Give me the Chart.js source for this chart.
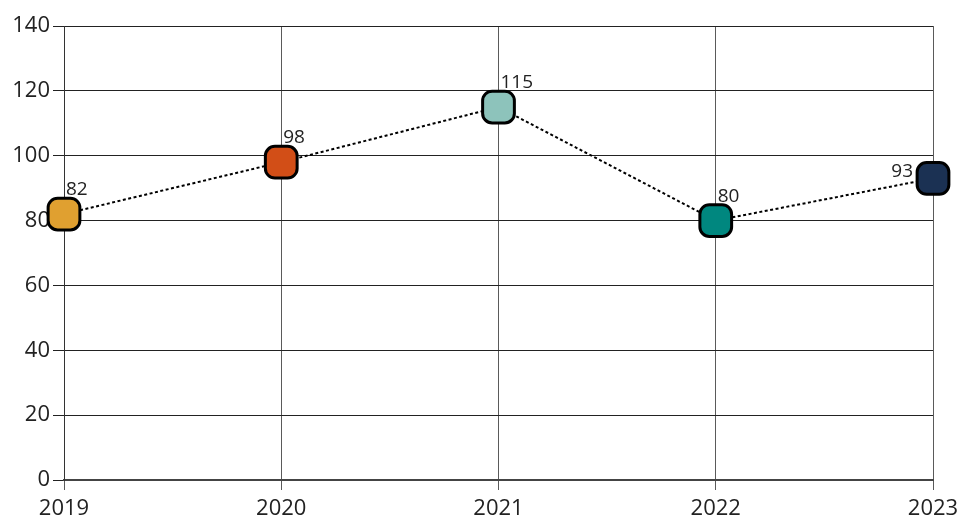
<!DOCTYPE html>
<html>
<head>
<meta charset="utf-8">
<script src="https://cdn.jsdelivr.net/npm/chart.js@4/dist/chart.umd.min.js"></script>
<style>
  html, body { margin: 0; padding: 0; background: #ffffff; }
  #wrap { width: 958px; height: 523px; position: relative; }
</style>
</head>
<body>
<div id="wrap"><canvas id="chart" width="958" height="523"></canvas></div>
<script>
// Yearly values
const years = ['2019', '2020', '2021', '2022', '2023'];
const values = [82, 98, 115, 80, 93];
const pointColors = ['#E0A030', '#D24E17', '#8DC3BB', '#00877F', '#1B3153'];
const yTicks = [0, 20, 40, 60, 80, 100, 120, 140];

const FONT = "'Open Sans', 'Noto Sans', sans-serif";

// Value labels beside each marker; the last one sits on the left of its marker
const valueLabels = {
  id: 'valueLabels',
  afterDatasetsDraw(chart) {
    const ctx = chart.ctx;
    const meta = chart.getDatasetMeta(0);
    ctx.save();
    ctx.font = '19px ' + FONT;
    ctx.fillStyle = '#222222';
    meta.data.forEach((pt, i) => {
      const text = String(values[i]);
      ctx.textBaseline = 'alphabetic';
      if (i === values.length - 1) {
        ctx.textAlign = 'right';
        ctx.fillText(text, pt.x - 20, pt.y - 1);
      } else {
        ctx.textAlign = 'left';
        ctx.fillText(text, pt.x + 2, pt.y - 19);
      }
    });
    ctx.restore();
  }
};

new Chart(document.getElementById('chart'), {
  type: 'line',
  data: {
    labels: years,
    datasets: [{
      data: values,
      borderColor: '#000000',
      borderWidth: 2,
      borderDash: [3, 2.5],
      fill: false,
      tension: 0,
      pointStyle: 'rectRounded',
      pointRadius: 18.5,
      pointHoverRadius: 18.5,
      pointBackgroundColor: pointColors,
      pointBorderColor: '#000000',
      pointBorderWidth: 3,
      clip: false
    }]
  },
  options: {
    responsive: false,
    animation: false,
    events: [],
    layout: { padding: { left: 0, right: 25, top: 26, bottom: 0 } },
    plugins: {
      legend: { display: false },
      tooltip: { enabled: false }
    },
    scales: {
      x: {
        offset: false,
        grid: {
          color: '#5a5a5a',
          lineWidth: 1,
          tickLength: 10,
          drawTicks: true
        },
        border: { display: true, color: '#444444', width: 2 },
        ticks: {
          font: { family: FONT, size: 22 },
          color: '#222222',
          padding: 6,
          maxRotation: 0
        },
        afterFit(scale) {
          scale.height = 43;
          // edge labels may spill into the page margin
          scale.paddingLeft = 0;
          scale.paddingRight = 0;
        }
      },
      y: {
        min: 0,
        max: 140,
        afterBuildTicks(scale) { scale.ticks = yTicks.map(v => ({ value: v })); },
        grid: {
          color: '#222222',
          lineWidth: 1,
          tickLength: 11
        },
        border: { display: true, color: '#333333', width: 1 },
        ticks: {
          font: { family: FONT, size: 22 },
          color: '#222222',
          padding: 3
        },
        afterFit(scale) {
          scale.width = 64;
          scale.paddingTop = 0;
          scale.paddingBottom = 0;
        }
      }
    }
  },
  plugins: [valueLabels]
});
</script>
</body>
</html>
